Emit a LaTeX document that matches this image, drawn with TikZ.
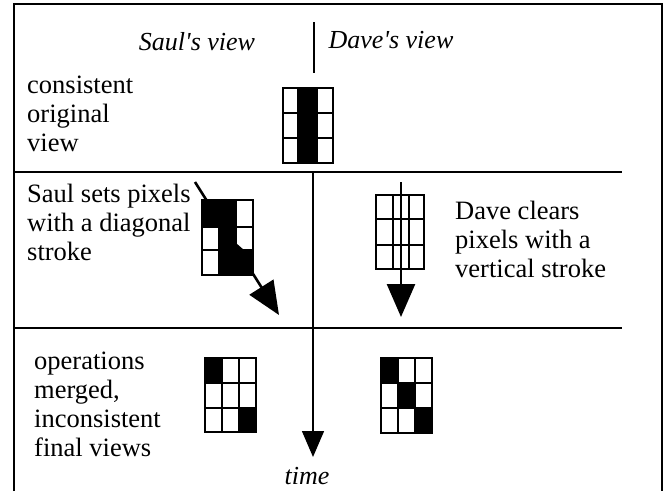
\documentclass[tikz,border=0pt]{standalone}
\usepackage{fontspec}
\setmainfont{Liberation Serif}[Ligatures=TeXOff]
\usetikzlibrary{arrows.meta}
\newcommand{\pgrid}[8]{%
  \draw[gridline] (#1,#5) rectangle (#4,#8);
  \draw[gridline] (#2,#5)--(#2,#8) (#3,#5)--(#3,#8) (#1,#6)--(#4,#6) (#1,#7)--(#4,#7);}
\begin{document}
\begin{tikzpicture}[x=1pt,y=-1pt,
  lbl/.style={anchor=west,inner sep=0pt,align=left,font=\fontsize{26.5}{29}\selectfont},
  hdr/.style={inner sep=0pt,font=\fontsize{26}{29}\selectfont\itshape},
  frame/.style={line width=2.8pt},
  rulel/.style={line width=1.4pt},
  gridline/.style={line width=2.6pt},
  strokeline/.style={line width=2.6pt},
]
\useasboundingbox (0,0) rectangle (667,491);
% frame
\draw[frame] (14,491) -- (14,4) -- (662,4) -- (662,491);
% dividers
\draw[rulel] (314,22) -- (314,73);
\draw[rulel] (14,172) -- (622,172);
\draw[rulel] (14,328) -- (622,328);
\coordinate (t0) at (313,172);
\coordinate (t1) at (313,457);
\draw[rulel,-{Triangle[length=26pt,width=22pt]}] (t0) -- (t1);
\node[hdr] (time) at (307,476) {time};
% headers
\node[hdr] (saulh) at (197,42) {Saul's view};
\node[hdr] (daveh) at (391,40) {Dave's view};
% labels
\node[lbl] (l1) at (27,114) {consistent\\original\\view};
\node[lbl] (l2) at (27,222) {Saul sets pixels\\with a diagonal\\stroke};
\node[lbl] (l3) at (455,239) {Dave clears\\pixels with a\\vertical stroke};
\node[lbl] (l4) at (34,404) {operations\\merged,\\inconsistent\\final views};
% grid 1
\fill (298,88) rectangle (317,163);
\pgrid{283}{298}{317}{333}{88}{113}{138}{163}
% grid 2 (Saul)
\fill (202,200) rectangle (236,227);
\fill (219,227) rectangle (236,250);
\fill (219,250) rectangle (253,275);
\fill (236,243) -- (236,250) -- (244,250) -- cycle;
\pgrid{202}{219}{236}{253}{200}{227}{250}{275}
\coordinate (s0) at (195,182);
\coordinate (s1) at (279,315);
\draw[strokeline,-{Triangle[length=33pt,width=28pt]}] (s0) -- (s1);
% grid 3 (Dave)
\pgrid{376}{393}{409}{424}{195}{219}{245}{269}
\coordinate (d0) at (401,182);
\coordinate (d1) at (401,317);
\draw[strokeline,-{Triangle[length=33pt,width=28pt]}] (d0) -- (d1);
% grid 4
\fill (205,358) rectangle (222,383);
\fill (239,408) rectangle (256,432);
\pgrid{205}{222}{239}{256}{358}{383}{408}{432}
% grid 5
\fill (381,358) rectangle (398,383);
\fill (398,383) rectangle (415,408);
\fill (415,408) rectangle (432,433);
\pgrid{381}{398}{415}{432}{358}{383}{408}{433}
\end{tikzpicture}
\end{document}
